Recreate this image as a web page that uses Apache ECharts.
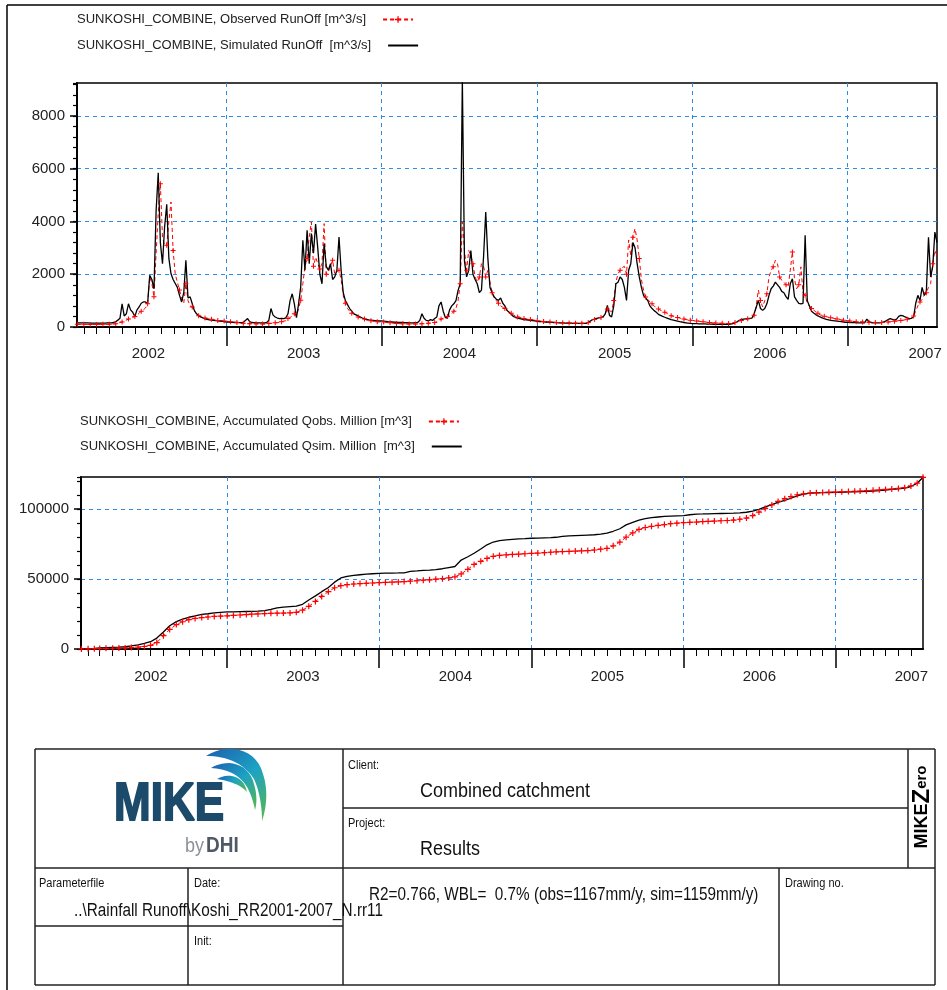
<!DOCTYPE html>
<html><head><meta charset="utf-8">
<script src="https://cdn.jsdelivr.net/npm/echarts@6/dist/echarts.min.js"></script>
<style>html,body{margin:0;padding:0;background:#fff}#c{width:947px;height:990px}</style>
</head><body><div id="c"></div>
<script>
// ---------- Run-off [m^3/s], 5-day samples (per year; first value at startDay) ----------
const simRun2002 = [160,160,160,155,155,155,150,150,150,150,150,150,150,150,155,155,160,170,200,260,330,880,420,500,880,650,560,400,650,760,900,950,950,880,1960,1800,1450,4400,5850,3200,2400,3800,4650,2600,2020,1800,1650,1500,1200,950,1300,2530,1100,1140,880,620,500,430,380,350,310,290,270,260,250,240,230,220,210,200];
const obsRun2002 = [100,100,100,100,100,100,95,95,95,95,95,95,100,100,100,105,110,110,120,140,170,190,220,260,300,330,360,400,450,520,600,650,720,880,1900,1650,1150,2800,4300,5430,3400,3100,3100,4000,4740,2900,2000,1700,1400,1100,900,1640,1000,800,760,600,520,430,380,360,340,320,300,290,280,260,250,240,240,230];
const simRun2003 = [190,185,180,175,170,170,165,165,170,250,320,200,170,165,160,160,160,160,160,170,250,700,450,380,340,320,330,320,350,500,1000,1260,880,350,880,1520,3290,2150,3670,2400,3540,2800,3900,3000,2000,1640,3160,2300,2150,2400,1800,1900,2150,3410,2150,1300,1000,850,700,600,500,460,420,380,340,310,290,270,260,250,240,230,230];
const obsRun2003 = [220,210,200,190,180,170,160,150,140,130,130,125,120,120,120,115,115,115,115,120,130,140,150,160,170,180,200,220,240,320,360,420,500,420,700,1010,1640,2300,2600,3410,3980,2300,2650,2400,2200,2400,3920,2000,2100,2300,2530,2000,2100,2150,1800,1200,900,700,600,520,500,450,380,350,320,300,260,250,240,220,210,200,200];
const simRun2004 = [230,220,210,200,195,190,185,180,175,170,170,165,165,160,160,160,165,170,250,500,330,250,230,280,250,320,380,800,950,600,360,340,650,800,880,1000,1390,1640,9400,2500,1900,2150,2900,2000,1800,1640,1300,1400,2700,4360,2600,1500,1300,1140,1050,1010,1100,900,800,630,560,480,400,360,340,320,300,280,270,260,250,240,230];
const obsRun2004 = [200,190,180,170,160,150,140,135,130,125,120,120,115,115,115,115,115,120,120,125,130,135,140,150,160,170,200,250,300,330,370,400,450,500,600,700,1000,1640,3980,2900,2150,2900,2700,2400,1900,1700,1900,2400,2300,1900,2150,1700,1300,1100,1000,900,800,750,700,630,570,520,460,420,380,360,340,320,300,290,280,270,260];
const simRun2005 = [210,205,200,195,190,185,180,175,170,165,160,160,155,150,150,145,145,140,140,140,135,135,135,135,180,230,280,300,330,350,360,380,500,820,440,380,800,1640,1700,1900,1800,1500,1010,2150,2400,3200,3000,2400,1900,1500,1200,1100,1000,800,700,620,560,480,440,400,370,340,310,280,260,240,220,200,190,170,160,150,140];
const obsRun2005 = [240,230,220,210,200,190,185,180,175,170,165,160,160,155,150,150,145,145,145,145,140,140,140,150,170,200,250,280,310,340,360,380,500,680,620,580,1000,1700,2020,2150,2250,2300,2000,3300,2700,3400,3730,3300,2600,1800,1400,1140,1050,950,880,800,720,680,630,600,560,520,470,430,400,380,360,340,320,300,280,270,260];
const simRun2006 = [130,128,125,122,120,118,115,112,110,108,105,103,100,100,100,100,100,100,110,130,160,200,250,280,300,310,320,330,340,500,750,1010,700,630,700,880,1200,1450,1550,1700,1600,1500,1350,1300,1150,1050,1640,1830,1140,1010,900,880,900,3480,1000,800,600,530,470,420,380,350,320,290,270,250,240,230,220,210,200,190,180];
const obsRun2006 = [250,240,230,220,210,200,190,180,170,160,155,150,145,140,140,135,135,135,140,150,170,190,220,250,270,290,310,320,350,450,800,1400,1000,760,1000,1260,1900,2150,2280,2530,2400,1900,1770,1700,1600,1520,2150,2840,1800,1450,1600,2280,1300,1200,900,800,700,640,580,520,460,440,410,390,370,350,340,320,300,290,270,260,250];
const simRun2007 = [180,175,170,170,165,160,160,155,160,300,200,170,160,155,155,160,170,190,230,280,320,290,260,300,400,440,420,380,350,320,330,380,900,1200,1000,1500,1200,1350,3400,1900,2300,3600,3200];
const obsRun2007 = [240,230,220,210,200,200,195,190,185,180,180,175,175,175,170,170,170,175,180,190,200,210,220,230,240,250,260,270,290,310,340,420,600,800,950,1050,1200,1300,1500,1640,2400,2900,2700];
const runYears = [2002, 2003, 2004, 2005, 2006, 2007];
const runStartDay = [15, 0, 0, 0, 0, 0];

// ---------- Accumulated volume [million m^3], half-monthly samples (1st / 16th) ----------
const accSim2002 = [100,300,500,700,900,1100,1300,1600,2200,3000,4000,5200,7800,12200,16600,19600,21300,22700,23700,24800,25200,25800,26200];
const accObs2002 = [50,150,250,350,450,550,650,800,1000,1300,1800,2600,4600,9500,14000,17500,19500,21000,21900,22500,22900,23300,23500];
const accSim2003 = [26500,26600,26700,26800,26900,27100,27500,28300,29400,29900,30300,30700,32000,35000,38000,41000,44000,47800,50800,52000,52700,53100,53500,53800];
const accObs2003 = [23700,24000,24300,24600,24900,25100,25300,25500,25600,25700,25800,26200,27800,30500,34000,37600,41000,43800,45300,46000,46500,46800,47000,47200];
const accSim2004 = [54100,54200,54300,54400,54500,55500,55800,56200,56400,56700,57400,58200,59000,63600,66000,68500,71500,74500,76500,77500,78000,78400,78700,78900];
const accObs2004 = [47400,47600,47800,48000,48200,48500,48800,49200,49500,49900,50300,50800,51600,53700,57000,60500,62700,64800,66300,66900,67300,67600,67800,68100];
const accSim2005 = [79200,79300,79500,79700,79900,80500,80900,81100,81300,81500,81700,82100,82800,84200,86000,88800,90600,92200,93200,93900,94400,94800,95000,95200];
const accObs2005 = [68400,68600,68900,69200,69500,69700,69800,70000,70200,70400,70800,71400,72000,73800,76400,80000,83000,85500,86900,87700,88400,89000,89600,90000];
const accSim2006 = [95400,96000,96500,96600,96700,96800,96900,97000,97100,97300,97800,98600,99800,101600,103200,104800,106200,107800,109500,110700,111500,111700,111800,111900];
const accObs2006 = [90400,90600,90800,91100,91300,91500,91700,91900,92200,92800,93600,95400,97900,100400,103000,105500,107500,109000,110300,111000,111500,111700,111900,112100];
const accSim2007 = [112000,112100,112300,112400,112500,112700,113000,113300,113700,114200,114600,115000,116200,118500];
const accObs2007 = [112200,112400,112600,112800,113000,113200,113500,113800,114100,114400,114800,115400,116600,118600];
const accStartHalf = [1, 0, 0, 0, 0, 0];
const accEndDate = [2007, 6, 30];
const accSimEnd = 122800;
const accObsEnd = 122800;

// ---------- Axis / tick labels ----------
const yTicksRun = [0, 2000, 4000, 6000, 8000];
const yTicksAcc = [0, 50000, 100000];
const yearLabels = ['2002', '2003', '2004', '2005', '2006', '2007'];
const names = {
  obsRun: 'SUNKOSHI_COMBINE, Observed RunOff [m^3/s]',
  simRun: 'SUNKOSHI_COMBINE, Simulated RunOff  [m^3/s]',
  obsAcc: 'SUNKOSHI_COMBINE, Accumulated Qobs. Million [m^3]',
  simAcc: 'SUNKOSHI_COMBINE, Accumulated Qsim. Million  [m^3]'
};

// ---------- build ----------
const FONT = '"Liberation Sans", Arial, sans-serif';
const X0 = new Date(2002, 0, 15).getTime();
const X1 = new Date(2007, 6, 30).getTime();
function pentads(year, startDay, vals) {
  return vals.map((v, i) => [new Date(year, 0, 1 + startDay + 5 * i).getTime(), v]);
}
function halfMonths(year, k0, vals) {
  return vals.map((v, i) => { const k = k0 + i; return [new Date(year, Math.floor(k / 2), k % 2 ? 16 : 1).getTime(), v]; });
}
const simRunYrs = [simRun2002, simRun2003, simRun2004, simRun2005, simRun2006, simRun2007];
const obsRunYrs = [obsRun2002, obsRun2003, obsRun2004, obsRun2005, obsRun2006, obsRun2007];
const accSimYrs = [accSim2002, accSim2003, accSim2004, accSim2005, accSim2006, accSim2007];
const accObsYrs = [accObs2002, accObs2003, accObs2004, accObs2005, accObs2006, accObs2007];
let simRun = [], obsRun = [], simAcc = [], obsAcc = [];
runYears.forEach((y, i) => {
  simRun = simRun.concat(pentads(y, runStartDay[i], simRunYrs[i]));
  obsRun = obsRun.concat(pentads(y, runStartDay[i], obsRunYrs[i]));
  simAcc = simAcc.concat(halfMonths(y, accStartHalf[i], accSimYrs[i]));
  obsAcc = obsAcc.concat(halfMonths(y, accStartHalf[i], accObsYrs[i]));
});
const endT = new Date(accEndDate[0], accEndDate[1], accEndDate[2]).getTime();
simAcc.push([endT, accSimEnd]);
obsAcc.push([endT, accObsEnd]);

const yearStarts = [], midYears = [], monthStarts = [];
runYears.forEach(y => {
  if (y > 2002) yearStarts.push(new Date(y, 0, 1).getTime());
  midYears.push(new Date(y, 6, 2).getTime());
  for (let m = 1; m < 12; m++) { const t = new Date(y, m, 1).getTime(); if (t > X0 && t < X1) monthStarts.push(t); }
});

const BLUE = '#2b8cf0';
const PLUS = 'path://M4,0H6V4H10V6H6V10H4V6H0V4H4Z';

function xMain(gi, margin) {
  return {
    type: 'value', gridIndex: gi, min: X0, max: X1, position: 'bottom',
    axisLine: { show: true, lineStyle: { color: '#000', width: 2 } },
    axisTick: { show: true, customValues: yearStarts, length: 19, lineStyle: { color: '#000', width: 1.5 } },
    axisLabel: { show: true, customValues: midYears, formatter: v => yearLabels[new Date(v).getFullYear() - 2002],
      fontSize: 15, fontFamily: FONT, color: '#222', margin: margin },
    splitLine: { show: true, lineStyle: { color: BLUE, type: [4, 4], width: 1 } }
  };
}
function xMinor(gi) {
  return {
    type: 'value', gridIndex: gi, min: X0, max: X1, position: 'bottom',
    axisLine: { show: false },
    axisTick: { show: true, customValues: monthStarts, length: 7, lineStyle: { color: '#000', width: 1 } },
    axisLabel: { show: false }, splitLine: { show: false }
  };
}
function yMain(gi, max, ticks) {
  return {
    type: 'value', gridIndex: gi, min: 0, max: max, interval: ticks[1] - ticks[0], position: 'left',
    axisLine: { show: true, lineStyle: { color: '#000', width: 2 } },
    axisTick: { show: true, length: 7, lineStyle: { color: '#000', width: 1.5 } },
    axisLabel: { fontSize: 15, fontFamily: FONT, color: '#222', margin: 12, showMaxLabel: false,
      formatter: v => String(v) },
    splitLine: { show: true, showMinLine: false, showMaxLine: false, lineStyle: { color: BLUE, type: [4, 4], width: 1 } }
  };
}
function yMinor(gi, max, interval) {
  return {
    type: 'value', gridIndex: gi, min: 0, max: max, interval: interval, position: 'left',
    axisLine: { show: false },
    axisTick: { show: true, length: 4, lineStyle: { color: '#000', width: 1.2 } },
    axisLabel: { show: false }, splitLine: { show: false }
  };
}
function legend(top, left, name, hideSymbol) {
  const item = { name: name };
  if (hideSymbol) item.itemStyle = { opacity: 0 };
  return {
    data: [item], top: top, left: left, orient: 'vertical', align: 'right',
    itemWidth: 30, itemHeight: 8, selectedMode: false, padding: 0,
    textStyle: { fontSize: 13, fontFamily: FONT, color: '#222', padding: [0, 12, 0, 0] }
  };
}

const chart = echarts.init(document.getElementById('c'), null, { renderer: 'canvas' });

function txt(x, y, text, size, opts) {
  opts = opts || {};
  const style = { text: text, font: (opts.bold ? 'bold ' : '') + size + 'px ' + FONT, fill: opts.fill || '#111',
      align: opts.align || 'left', verticalAlign: 'middle' };
  if (opts.stroke) { style.stroke = opts.fill; style.lineWidth = opts.stroke; }
  return { type: 'text', x: x, y: y, scaleY: opts.sy || 1.15, z: 10, silent: true, style: style };
}
function ln(x1, y1, x2, y2, w, c) {
  return { type: 'line', z: 10, silent: true, shape: { x1: x1, y1: y1, x2: x2, y2: y2 },
    style: { stroke: c || '#222', lineWidth: w || 1.5 } };
}
// sample cubic bezier outlines into polygon points (logo decoration)
function bezPoly(start, segs) {
  const pts = [start.slice()];
  let p0 = start;
  segs.forEach(s => {
    const c1 = [s[0], s[1]], c2 = [s[2], s[3]], p3 = [s[4], s[5]];
    for (let i = 1; i <= 14; i++) {
      const t = i / 14, u = 1 - t;
      pts.push([
        u * u * u * p0[0] + 3 * u * u * t * c1[0] + 3 * u * t * t * c2[0] + t * t * t * p3[0],
        u * u * u * p0[1] + 3 * u * u * t * c1[1] + 3 * u * t * t * c2[1] + t * t * t * p3[1]]);
    }
    p0 = p3;
  });
  return pts;
}
const waveFill = new echarts.graphic.LinearGradient(0, 0, 1, 1, [
  { offset: 0, color: '#1c5fb0' }, { offset: 0.5, color: '#1ca2c4' }, { offset: 1, color: '#58b84c' }]);
function wave(start, segs) {
  return { type: 'polygon', z: 10, silent: true, shape: { points: bezPoly(start, segs) }, style: { fill: waveFill } };
}

const graphics = [
  ln(7, 5, 947, 5, 1.5, '#000'), ln(7, 5, 7, 990, 1.5, '#000'),
  ln(35, 749, 935, 749), ln(35, 985, 935, 985), ln(35, 749, 35, 985), ln(935, 749, 935, 985),
  ln(35, 868, 935, 868), ln(343, 749, 343, 985), ln(343, 808, 908, 808), ln(908, 749, 908, 868),
  ln(188, 868, 188, 985), ln(35, 926, 343, 926), ln(779, 868, 779, 985),
  txt(348, 766, 'Client:', 11),
  txt(420, 791, 'Combined catchment', 18),
  txt(348, 824, 'Project:', 11),
  txt(420, 849, 'Results', 18),
  txt(39, 884, 'Parameterfile', 11),
  txt(194, 884, 'Date:', 11),
  txt(74, 911, '..\\Rainfall Runoff\\Koshi_RR2001-2007_N.rr11', 15.3),
  txt(194, 942, 'Init:', 11),
  txt(369, 895, 'R2=0.766, WBL=  0.7% (obs=1167mm/y, sim=1159mm/y)', 15.3),
  txt(785, 884, 'Drawing no.', 11),
  txt(114, 805, 'MIKE', 44, { bold: true, fill: '#1b4a6b', sy: 1.2, stroke: 1.6 }),
  txt(185, 846, 'by', 18, { fill: '#8c929b' }),
  txt(206, 846, 'DHI', 19, { bold: true, fill: '#4f5866' }),
  wave([206, 756], [[226, 743, 256, 747, 263, 774], [268, 789, 267, 806, 262, 821], [262, 805, 259, 790, 254, 779], [242, 761, 224, 756, 206, 756]]),
  wave([211, 768], [[227, 758, 249, 763, 254, 784], [257, 794, 257, 803, 255, 810], [253, 800, 250, 791, 245, 784], [236, 772, 224, 769, 211, 768]]),
  wave([217, 779], [[229, 772, 244, 776, 247, 792], [241, 785, 230, 781, 217, 779]]),
  { type: 'text', x: 922, y: 807, rotation: Math.PI / 2, z: 10, silent: true,
    style: { text: '{a|MIKE}{b|Z}{c|ero}', align: 'center', verticalAlign: 'middle',
      rich: { a: { fontSize: 18, fontWeight: 'bold', fontFamily: FONT, color: '#111' },
              b: { fontSize: 24, fontWeight: 'bold', fontFamily: FONT, color: '#111' },
              c: { fontSize: 15, fontWeight: 'bold', fontFamily: FONT, color: '#111' } } } }
];

chart.setOption({
  animation: false,
  backgroundColor: '#fff',
  grid: [
    { left: 77, top: 83, width: 860, height: 244, show: true, borderColor: '#000', borderWidth: 1.5, backgroundColor: 'transparent' },
    { left: 81, top: 477, width: 842, height: 172, show: true, borderColor: '#000', borderWidth: 1.5, backgroundColor: 'transparent' }
  ],
  legend: [
    legend(13, 77, names.obsRun, false),
    legend(39, 77, names.simRun, true),
    legend(415, 80, names.obsAcc, false),
    legend(440, 80, names.simAcc, true)
  ],
  xAxis: [xMain(0, 19), xMinor(0), xMain(1, 20), xMinor(1)],
  yAxis: [yMain(0, 9250, yTicksRun), yMinor(0, 9250, 400), yMain(1, 123000, yTicksAcc), yMinor(1, 123000, 10000)],
  series: [
    { name: names.obsRun, type: 'line', xAxisIndex: 0, yAxisIndex: 0, data: obsRun,
      symbol: PLUS, symbolSize: (v, p) => (p.dataIndex % 3 === 0 ? 5 : 0), showSymbol: true,
      itemStyle: { color: '#ff0000' }, lineStyle: { color: '#ff0000', width: 1, type: [4, 3] } },
    { name: names.simRun, type: 'line', xAxisIndex: 0, yAxisIndex: 0, data: simRun, symbol: 'none',
      itemStyle: { color: '#000' }, lineStyle: { color: '#000', width: 1.3 } },
    { name: names.obsAcc, type: 'line', xAxisIndex: 2, yAxisIndex: 2, data: obsAcc,
      symbol: PLUS, symbolSize: 6, showSymbol: true,
      itemStyle: { color: '#ff0000' }, lineStyle: { color: '#ff0000', width: 1, type: [4, 3] } },
    { name: names.simAcc, type: 'line', xAxisIndex: 2, yAxisIndex: 2, data: simAcc, symbol: 'none',
      itemStyle: { color: '#000' }, lineStyle: { color: '#000', width: 1.3 } }
  ],
  graphic: { elements: graphics }
});
</script></body></html>
